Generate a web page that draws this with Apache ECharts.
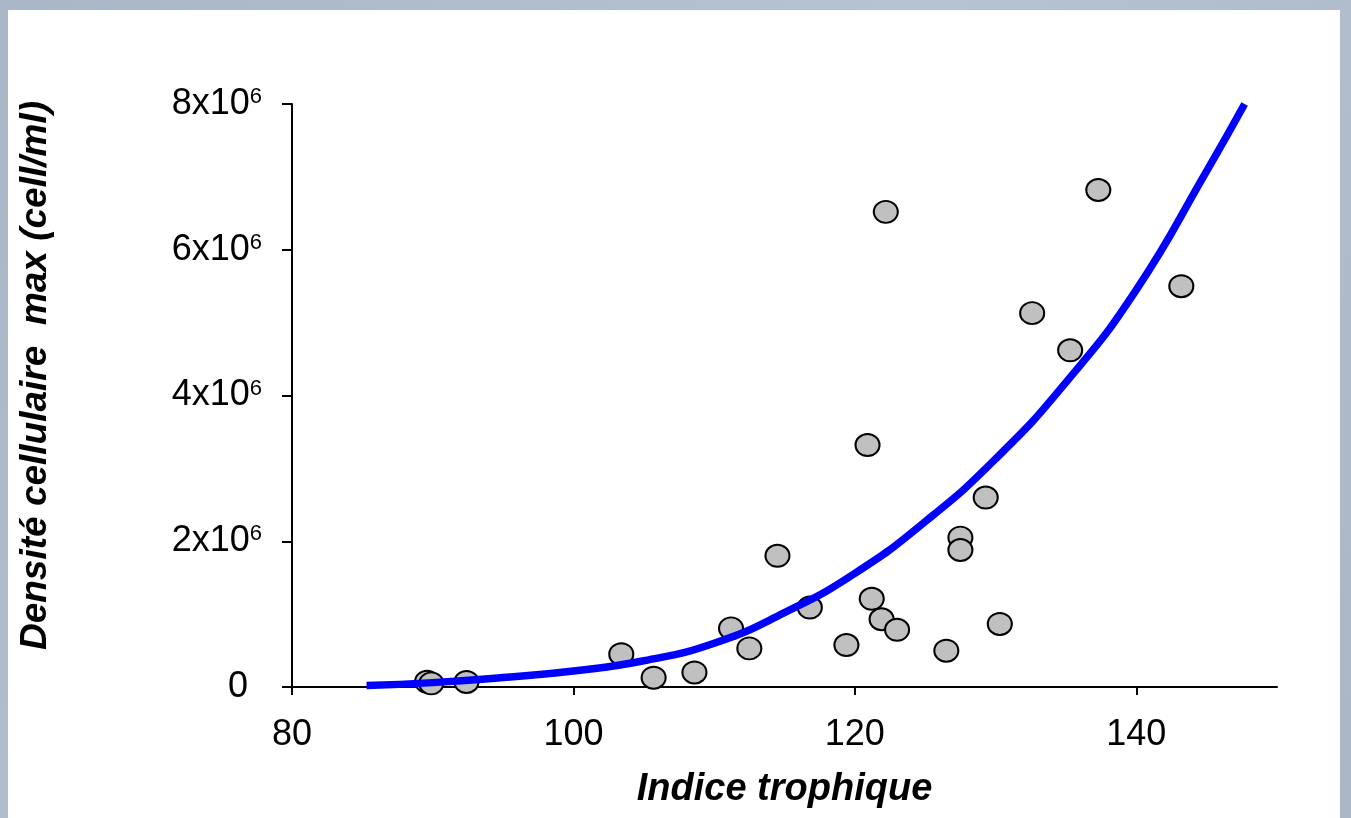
<!DOCTYPE html>
<html>
<head>
<meta charset="utf-8">
<title>Densité cellulaire max vs Indice trophique</title>
<script src="https://cdn.jsdelivr.net/npm/echarts@6/dist/echarts.min.js"></script>
<style>
  html, body { margin: 0; padding: 0; }
  #main { width: 1351px; height: 818px; }
</style>
</head>
<body>
<div id="main"></div>
<script>
// observations (indice trophique, densité max cell/ml)
var trophIndex = [89.6, 89.9, 92.4, 103.4, 105.7, 108.6, 111.2, 112.5, 114.5, 116.8,
                  119.4, 120.9, 121.2, 121.9, 123.0, 122.2, 126.5, 127.5, 127.5, 129.3,
                  130.3, 132.6, 135.3, 137.3, 143.2];
var cellDensity = [0.073e6, 0.05e6, 0.069e6, 0.45e6, 0.128e6, 0.20e6, 0.805e6, 0.53e6, 1.80e6, 1.09e6,
                   0.576e6, 3.32e6, 1.21e6, 0.93e6, 0.785e6, 6.52e6, 0.498e6, 2.05e6, 1.88e6, 2.60e6,
                   0.865e6, 5.13e6, 4.62e6, 6.82e6, 5.50e6];

// fitted curve
var fitX = [85.3, 90, 95, 100, 105, 110, 115, 120, 125, 130, 135, 140, 145, 147.7];
var fitY = [0.02e6, 0.06e6, 0.13e6, 0.22e6, 0.36e6, 0.60e6, 1.02e6, 1.56e6, 2.27e6, 3.13e6, 4.18e6, 5.45e6, 7.08e6, 8.0e6];

var xTicks = [80, 100, 120, 140];

var FONT = 'Liberation Sans, Arial, sans-serif';

var points = trophIndex.map(function (x, i) { return [x, cellDensity[i]]; });
var curve = fitX.map(function (x, i) { return [x, fitY[i]]; });

var chart = echarts.init(document.getElementById('main'));
chart.setOption({
    backgroundColor: {
        type: 'linear', x: 0, y: 0, x2: 1, y2: 1,
        colorStops: [
            { offset: 0, color: '#a9b6c7' },
            { offset: 0.5, color: '#b7c3d1' },
            { offset: 1, color: '#aab5c6' }
        ]
    },
    animation: false,
    graphic: [{
        type: 'rect',
        z: -1,
        shape: { x: 8, y: 10, width: 1332, height: 808 },
        style: { fill: '#ffffff' }
    }],
    grid: { left: 292, right: 74, top: 104, bottom: 131 },
    xAxis: {
        type: 'value',
        min: 80,
        max: 150,
        interval: 20,
        name: 'Indice trophique',
        nameLocation: 'middle',
        nameGap: 84,
        nameTextStyle: { fontFamily: FONT, fontSize: 38, fontWeight: 'bold', fontStyle: 'italic', color: '#000' },
        axisLine: { lineStyle: { color: '#000', width: 2 } },
        axisTick: { customValues: xTicks, length: 8, lineStyle: { color: '#000', width: 2 } },
        axisLabel: { customValues: xTicks, margin: 30, fontFamily: FONT, fontSize: 36, color: '#000' },
        splitLine: { show: false }
    },
    yAxis: {
        type: 'value',
        min: 0,
        max: 8e6,
        interval: 2e6,
        name: 'Densité cellulaire  max (cell/ml)',
        nameLocation: 'middle',
        nameGap: 238,
        nameTextStyle: {
            fontFamily: FONT, fontSize: 37, fontWeight: 'bold', fontStyle: 'italic', color: '#000',
            padding: [0, 0, 0, 40]
        },
        axisLine: { show: true, lineStyle: { color: '#000', width: 2 } },
        axisTick: { show: true, length: 10, lineStyle: { color: '#000', width: 2 } },
        axisLabel: {
            margin: 30,
            fontFamily: FONT,
            color: '#000',
            formatter: function (v) {
                if (v === 0) return '{z|0}';
                return '{a|' + (v / 1e6) + 'x10}{s|6}';
            },
            rich: {
                a: { fontFamily: FONT, fontSize: 36, color: '#000', lineHeight: 36 },
                z: { fontFamily: FONT, fontSize: 36, color: '#000', lineHeight: 36, padding: [0, 14, 0, 0] },
                s: { fontFamily: FONT, fontSize: 22, color: '#000', lineHeight: 24, verticalAlign: 'top' }
            }
        },
        splitLine: { show: false }
    },
    series: [
        {
            type: 'scatter',
            data: points,
            symbol: 'circle',
            symbolSize: [24, 22],
            itemStyle: { color: '#c0c0c0', borderColor: '#000', borderWidth: 2, opacity: 1 },
            z: 2
        },
        {
            type: 'line',
            data: curve,
            smooth: 0.5,
            showSymbol: false,
            lineStyle: { color: '#0000ff', width: 7.5, cap: 'butt' },
            z: 3
        }
    ]
});
</script>
</body>
</html>
